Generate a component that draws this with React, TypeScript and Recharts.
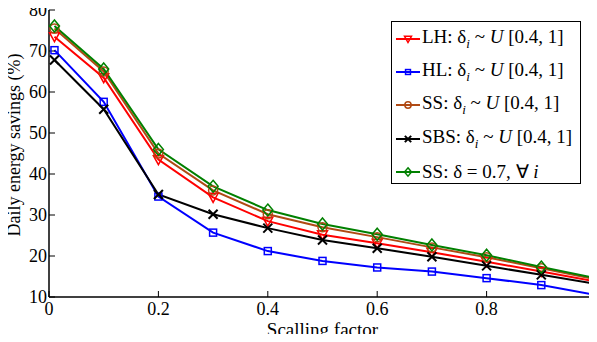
import { Line, LineChart, XAxis, YAxis, Label } from "recharts"

const scaling = [0.01, 0.1, 0.2, 0.3, 0.4, 0.5, 0.6, 0.7, 0.8, 0.9, 1]
const lh = [73.5, 63.5, 43.5, 34.3, 28.5, 25.2, 23.1, 20.9, 18.6, 16.2, 13.8]
const hl = [70.2, 57.6, 34.5, 25.7, 21.2, 18.8, 17.2, 16.2, 14.6, 12.9, 10.5]
const ss = [75.5, 65, 45, 36, 30.2, 27, 24.6, 22.1, 19.7, 17, 14.3]
const sbs = [67.8, 55.8, 35, 30.2, 26.8, 23.9, 21.9, 19.8, 17.6, 15.4, 13.2]
const ssFixed = [76.1, 65.6, 46, 37, 31.2, 27.8, 25.3, 22.7, 20.2, 17.3, 14.6]

const xTicks = [0, 0.2, 0.4, 0.6, 0.8, 1]
const yTicks = [10, 20, 30, 40, 50, 60, 70, 80]

const data = scaling.map((s, i) => ({
  s,
  lh: lh[i],
  hl: hl[i],
  ss: ss[i],
  sbs: sbs[i],
  ssFixed: ssFixed[i],
}))

const FONT = "Liberation Serif"

type Shape = "tri" | "square" | "circle" | "x" | "diamond"

function Marker({ cx, cy, shape, color, size = 1 }: { cx: number; cy: number; shape: Shape; color: string; size?: number }) {
  const s = size
  if (shape === "tri")
    return <polygon points={`${cx - 5 * s},${cy - 4 * s} ${cx + 5 * s},${cy - 4 * s} ${cx},${cy + 5 * s}`} fill="none" stroke={color} strokeWidth={1.5} />
  if (shape === "square")
    return <rect x={cx - 3.5 * s} y={cy - 3.5 * s} width={7 * s} height={7 * s} fill="none" stroke={color} strokeWidth={1.5} />
  if (shape === "circle")
    return <circle cx={cx} cy={cy} r={4.5 * s} fill="none" stroke={color} strokeWidth={1.5} />
  if (shape === "x")
    return (
      <g stroke={color} strokeWidth={2}>
        <line x1={cx - 4.5 * s} y1={cy - 4.5 * s} x2={cx + 4.5 * s} y2={cy + 4.5 * s} />
        <line x1={cx - 4.5 * s} y1={cy + 4.5 * s} x2={cx + 4.5 * s} y2={cy - 4.5 * s} />
      </g>
    )
  return <polygon points={`${cx},${cy - 6 * s} ${cx + 5 * s},${cy} ${cx},${cy + 6 * s} ${cx - 5 * s},${cy}`} fill="none" stroke={color} strokeWidth={1.5} />
}

const series: { key: string; color: string; shape: Shape; name: string; sub: boolean }[] = [
  { key: "lh", color: "#ff0000", shape: "tri", name: "LH", sub: true },
  { key: "hl", color: "#0000ff", shape: "square", name: "HL", sub: true },
  { key: "ss", color: "#b04a14", shape: "circle", name: "SS", sub: true },
  { key: "sbs", color: "#000000", shape: "x", name: "SBS", sub: true },
  { key: "ssFixed", color: "#008000", shape: "diamond", name: "SS", sub: false },
]

function dotFor(shape: Shape, color: string) {
  return (props: any) => <Marker key={props.index} cx={props.cx} cy={props.cy} shape={shape} color={color} />
}

function LegendBox() {
  return (
    <div
      style={{
        position: "absolute",
        left: 391,
        top: 21,
        width: 188,
        height: 161,
        border: "1.5px solid #000",
        background: "#fff",
        fontFamily: FONT,
        fontSize: 19,
      }}
    >
      {series.map((it, i) => (
        <div key={i} style={{ display: "flex", alignItems: "center", height: 33.3, whiteSpace: "nowrap" }}>
          <svg width={26} height={20} style={{ marginLeft: 3, marginRight: 1 }}>
            <line x1={1} y1={10} x2={25} y2={10} stroke={it.color} strokeWidth={2} />
            <Marker cx={13} cy={10} shape={it.shape} color={it.color} size={0.7} />
          </svg>
          {it.sub ? (
            <span>
              {it.name}: δ<sub style={{ fontSize: 13, fontStyle: "italic" }}>i</sub> ~ <i>U</i> [0.4, 1]
            </span>
          ) : (
            <span>
              {it.name}: δ = 0.7, ∀ <i>i</i>
            </span>
          )}
        </div>
      ))}
    </div>
  )
}

const YLabel = () => (
  <text x={20} y={145} transform="rotate(-90 20 145)" textAnchor="middle" fill="#000" fontSize={18} fontFamily={FONT}>
    Daily energy savings (%)
  </text>
)

export default function App() {
  return (
    <div style={{ margin: -8, position: "relative", width: 597, height: 342, overflow: "hidden", background: "#fff", fontFamily: FONT }}>
      <LineChart width={597} height={342} data={data} margin={{ top: 10, right: 1, bottom: 0, left: 0 }} style={{ fontFamily: FONT }}>
        <XAxis
          dataKey="s"
          type="number"
          domain={[0, 1]}
          ticks={xTicks}
          interval={0}
          tickFormatter={(v) => String(v)}
          stroke="#000"
          tickSize={-6}
          tickMargin={11}
          height={45}
          tick={{ fill: "#000", fontSize: 18, fontFamily: FONT }}
          axisLine={{ strokeWidth: 1.5 }}
        >
          <Label value="Scalling factor" position="insideBottom" offset={6} style={{ fill: "#000", fontSize: 19, fontFamily: FONT }} />
        </XAxis>
        <XAxis
          xAxisId="top"
          orientation="top"
          dataKey="s"
          type="number"
          domain={[0, 1]}
          ticks={xTicks}
          interval={0}
          mirror
          height={0}
          tickSize={6}
          tickFormatter={() => ""}
          stroke="#000"
          axisLine={{ strokeWidth: 1.5 }}
        />
        <YAxis
          domain={[10, 80]}
          ticks={yTicks}
          interval={0}
          type="number"
          width={49}
          stroke="#000"
          tickSize={-6}
          tickMargin={8}
          tick={{ fill: "#000", fontSize: 18, fontFamily: FONT }}
          axisLine={{ strokeWidth: 1.5 }}
        >
          <Label content={() => <YLabel />} />
        </YAxis>
        <YAxis
          yAxisId="right"
          orientation="right"
          domain={[10, 80]}
          ticks={yTicks}
          interval={0}
          type="number"
          mirror
          width={0}
          tickSize={6}
          tickFormatter={() => ""}
          stroke="#000"
          axisLine={{ strokeWidth: 1.5 }}
        />
        {series.map((it) => (
          <Line
            key={it.key}
            dataKey={it.key}
            stroke={it.color}
            strokeWidth={2}
            dot={dotFor(it.shape, it.color)}
            activeDot={false}
            isAnimationActive={false}
          />
        ))}
      </LineChart>
      <LegendBox />
    </div>
  )
}
